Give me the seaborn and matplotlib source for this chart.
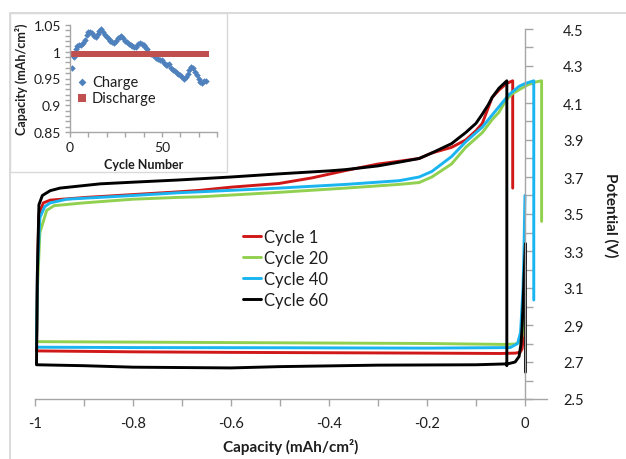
import numpy as np
import pandas as pd
import matplotlib
matplotlib.use("Agg")
import matplotlib.pyplot as plt
from matplotlib.ticker import MultipleLocator, FuncFormatter, FixedLocator
from matplotlib.patches import Rectangle
import seaborn as sns

# ---------------- data ----------------
cycle_labels = ["Cycle 1", "Cycle 20", "Cycle 40", "Cycle 60"]
cycle_colors = ["#D01818", "#92D050", "#1AB4F0", "#000000"]

c1_cap = [-0.001, -0.003, -0.006, -0.010, -0.020, -0.050, -0.200, -0.400, -0.600, -0.800,
          -0.997, -0.995, -0.992, -0.983, -0.969, -0.894, -0.800, -0.706, -0.663, -0.600,
          -0.502, -0.435, -0.366, -0.300, -0.257, -0.216, -0.190, -0.150, -0.121, -0.100,
          -0.087, -0.077, -0.067, -0.053, -0.038, -0.025, -0.025]
c1_v = [2.95, 2.83, 2.77, 2.752, 2.748, 2.746, 2.748, 2.750, 2.752, 2.755,
        2.760, 3.20, 3.50, 3.56, 3.575, 3.59, 3.605, 3.62, 3.628, 3.645,
        3.665, 3.695, 3.735, 3.770, 3.785, 3.80, 3.83, 3.86, 3.90, 3.95,
        3.99, 4.06, 4.13, 4.17, 4.205, 4.22, 3.64]

c20_cap = [-0.001, -0.003, -0.006, -0.010, -0.020, -0.040, -0.200, -0.600, -0.997, -0.995,
           -0.990, -0.976, -0.961, -0.901, -0.800, -0.706, -0.663, -0.502, -0.366, -0.257,
           -0.216, -0.190, -0.150, -0.121, -0.087, -0.067, -0.053, -0.039, -0.026, 0.000,
           0.015, 0.034, 0.034]
c20_v = [3.10, 2.92, 2.84, 2.81, 2.797, 2.795, 2.800, 2.805, 2.810, 3.10,
         3.40, 3.52, 3.545, 3.56, 3.58, 3.59, 3.593, 3.617, 3.64, 3.66,
         3.67, 3.70, 3.77, 3.86, 3.94, 4.01, 4.05, 4.115, 4.15, 4.19,
         4.21, 4.22, 3.46]

c40_cap = [0.000, -0.002, -0.004, -0.006, -0.009, -0.015, -0.030, -0.200, -0.500, -0.800,
           -0.997, -0.995, -0.990, -0.980, -0.969, -0.935, -0.800, -0.706, -0.663, -0.502,
           -0.366, -0.257, -0.216, -0.190, -0.150, -0.121, -0.087, -0.067, -0.053, -0.033,
           -0.012, 0.000, 0.018, 0.018]
c40_v = [3.60, 3.30, 3.10, 3.00, 2.86, 2.80, 2.778, 2.775, 2.777, 2.778,
         2.780, 3.20, 3.48, 3.54, 3.56, 3.58, 3.60, 3.615, 3.62, 3.64,
         3.66, 3.68, 3.70, 3.73, 3.81, 3.89, 3.97, 4.035, 4.08, 4.144,
         4.19, 4.205, 4.22, 3.035]

c60_cap = [0.001, 0.001, -0.002, -0.004, -0.006, -0.008, -0.012, -0.020, -0.035, -0.100,
           -0.300, -0.500, -0.600, -0.800, -0.900, -0.997, -0.995, -0.992, -0.985, -0.969,
           -0.949, -0.867, -0.800, -0.706, -0.600, -0.502, -0.400, -0.366, -0.300, -0.257,
           -0.216, -0.190, -0.150, -0.121, -0.100, -0.087, -0.075, -0.067, -0.053, -0.045,
           -0.037, -0.037]
c60_v = [2.645, 3.34, 3.15, 3.00, 2.88, 2.80, 2.73, 2.70, 2.69, 2.685,
         2.683, 2.675, 2.668, 2.672, 2.680, 2.685, 3.20, 3.55, 3.60, 3.626,
         3.64, 3.663, 3.672, 3.684, 3.70, 3.717, 3.733, 3.74, 3.76, 3.78,
         3.80, 3.83, 3.88, 3.94, 3.99, 4.04, 4.09, 4.13, 4.18, 4.20,
         4.22, 2.68]

# y-axis tick labels of the main chart
v_ticks = [2.5, 2.7, 2.9, 3.1, 3.3, 3.5, 3.7, 3.9, 4.1, 4.3, 4.5]

# inset: capacity vs cycle number
cycles = list(range(1, 75))
charge = [0.970, 0.990, 1.005, 1.010, 1.013, 1.012, 1.016, 1.022, 1.032, 1.036,
          1.037, 1.035, 1.030, 1.027, 1.034, 1.038, 1.043, 1.036, 1.031, 1.028,
          1.024, 1.020, 1.018, 1.017, 1.021, 1.025, 1.028, 1.030, 1.025, 1.020,
          1.018, 1.015, 1.013, 1.011, 1.009, 1.008, 1.015, 1.017, 1.015, 1.012,
          1.009, 1.005, 0.998, 0.995, 0.994, 0.992, 0.989, 0.987, 0.985, 0.984,
          0.979, 0.975, 0.975, 0.977, 0.970, 0.966, 0.964, 0.961, 0.958, 0.956,
          0.953, 0.950, 0.952, 0.958, 0.966, 0.971, 0.970, 0.962, 0.956, 0.950,
          0.944, 0.942, 0.946, 0.945]
discharge = [0.995, 0.995, 0.995, 0.995, 0.995, 0.995, 0.995, 0.995, 0.995, 0.995,
             0.995, 0.995, 0.995, 0.995, 0.995, 0.995, 0.995, 0.995, 0.995, 0.995,
             0.995, 0.995, 0.995, 0.995, 0.995, 0.995, 0.995, 0.995, 0.995, 0.995,
             0.995, 0.995, 0.995, 0.995, 0.995, 0.995, 0.995, 0.995, 0.995, 0.995,
             0.995, 0.995, 0.995, 0.995, 0.995, 0.995, 0.995, 0.995, 0.995, 0.995,
             0.995, 0.995, 0.995, 0.995, 0.995, 0.995, 0.995, 0.995, 0.995, 0.995,
             0.995, 0.995, 0.995, 0.995, 0.995, 0.995, 0.995, 0.995, 0.995, 0.995,
             0.995, 0.995, 0.995, 0.995]

# ---------------- style ----------------
sns.set_theme(style="white")
plt.rcParams["font.family"] = ["Lato", "DejaVu Sans"]
plt.rcParams["axes.unicode_minus"] = False
TXT = "#1e1e1e"
AX = "#A6A6A6"

W, H = 626, 460
fig = plt.figure(figsize=(W / 100, H / 100), dpi=100)
fig.patch.set_facecolor("white")

def fx(px):
    return px / W

def fy(py):
    return 1 - py / H

# main axes
ax = fig.add_axes([fx(35), fy(400), fx(547) - fx(35), fy(30) - fy(400)])
ax.set_facecolor("none")

series = [(c1_cap, c1_v), (c20_cap, c20_v), (c40_cap, c40_v), (c60_cap, c60_v)]
for (cap, v), lab, col in zip(series, cycle_labels, cycle_colors):
    df = pd.DataFrame({"cap": cap, "V": v})
    sns.lineplot(data=df, x="cap", y="V", sort=False, estimator=None,
                 color=col, lw=2.1, label=lab, ax=ax)

ax.set_xlim(-1.0, 0.045)
ax.set_ylim(2.5, 4.5)

for s in ["top", "right"]:
    ax.spines[s].set_visible(False)
ax.spines["left"].set_position(("data", 0))
ax.spines["left"].set_color(AX)
ax.spines["bottom"].set_color(AX)
ax.spines["left"].set_linewidth(1.0)
ax.spines["bottom"].set_linewidth(1.0)

ax.xaxis.set_major_locator(MultipleLocator(0.2))
ax.xaxis.set_minor_locator(MultipleLocator(0.1))
ax.yaxis.set_major_locator(FixedLocator(v_ticks))
ax.yaxis.set_minor_locator(FixedLocator(np.arange(2.5, 4.55, 0.1)))
ax.xaxis.set_major_formatter(FuncFormatter(lambda v, p: "%g" % round(v, 2)))
ax.yaxis.set_major_formatter(FuncFormatter(lambda v, p: "%.1f" % v))

ax.tick_params(axis="x", which="both", direction="out", length=5, width=1,
               color=AX, bottom=True, labelsize=10.5, labelcolor=TXT, pad=7)
ax.tick_params(axis="y", which="both", direction="in", length=6, width=1,
               color=AX, left=True, right=False, labelleft=False,
               labelright=True, labelsize=10.5, labelcolor=TXT, pad=11.5)

ax.set_xlabel("Capacity (mAh/cm²)", fontsize=11, fontweight="bold", color=TXT)
ax.xaxis.set_label_coords(0.5, (400 - 447) / 370)
ax.xaxis.label.set_va("center")
ax.yaxis.set_label_position("right")
ax.set_ylabel("Potential (V)", fontsize=11, fontweight="bold", color=TXT,
              rotation=270)
ax.yaxis.set_label_coords((611 - 35) / 512, 0.5)
ax.yaxis.label.set_va("center")
ax.yaxis.label.set_ha("center")

leg = ax.legend(loc="upper left", bbox_to_anchor=((243 - 35) / 512, (400 - 230) / 370),
                frameon=False, fontsize=12, handlelength=1.1, handletextpad=0.15,
                labelspacing=0.3, borderaxespad=0, borderpad=0)
for t in leg.get_texts():
    t.set_color(TXT)
for h in leg.legend_handles:
    h.set_linewidth(2.1)

# outer chart frame
fig.patches.append(Rectangle((fx(10), -0.1), 1.2, fy(14) + 0.1,
                             transform=fig.transFigure, fill=False,
                             edgecolor="#D4D4D4", lw=1.2, zorder=0.5))
# inset frame (white box)
fig.patches.append(Rectangle((fx(10), fy(173)), fx(227) - fx(10), fy(14) - fy(173),
                             transform=fig.transFigure, facecolor="white",
                             edgecolor="#D9D9D9", lw=1.0, zorder=1))

# inset axes
ins = fig.add_axes([fx(70), fy(133), fx(217) - fx(70), fy(26) - fy(133)], zorder=2)
ins.set_facecolor("none")
sns.scatterplot(x=cycles, y=charge, marker="D", s=11, color="#4F81BD",
                linewidth=0, label="Charge", ax=ins)
sns.scatterplot(x=cycles, y=discharge, marker="s", s=24, color="#C0504D",
                linewidth=0, label="Discharge", ax=ins)
ins.set_xlim(0, 80)
ins.set_ylim(0.85, 1.05)
for s in ["top", "right"]:
    ins.spines[s].set_visible(False)
for s in ["left", "bottom"]:
    ins.spines[s].set_color(AX)
    ins.spines[s].set_linewidth(1.0)
ins.xaxis.set_major_locator(MultipleLocator(50))
ins.xaxis.set_minor_locator(MultipleLocator(10))
ins.yaxis.set_major_locator(MultipleLocator(0.05))
ins.yaxis.set_minor_locator(MultipleLocator(0.01))
ins.yaxis.set_major_formatter(FuncFormatter(lambda v, p: "%g" % round(v, 2)))
ins.tick_params(axis="both", which="both", direction="out", length=3.5, width=1,
                color=AX, labelsize=10, labelcolor=TXT, pad=3)
ins.tick_params(axis="x", which="both", bottom=True)
ins.tick_params(axis="y", which="both", left=True)
ins.set_xlabel("Cycle Number", fontsize=9, fontweight="bold", color=TXT)
ins.xaxis.set_label_coords(0.5, (133 - 165) / 107)
ins.xaxis.label.set_va("center")
ins.set_ylabel("Capacity (mAh/cm²)", fontsize=9, fontweight="bold", color=TXT)
ins.yaxis.set_label_coords((21 - 70) / 147, 0.5)
ins.yaxis.label.set_va("center")

ileg = ins.legend(loc="upper left", bbox_to_anchor=(0.04, 0.53), frameon=False,
                  fontsize=10.5, handlelength=0.8, handletextpad=0.3,
                  labelspacing=0.12, borderaxespad=0, borderpad=0,
                  markerscale=1.2)
for t in ileg.get_texts():
    t.set_color(TXT)

fig.savefig("out.png", dpi=100, facecolor="white")
